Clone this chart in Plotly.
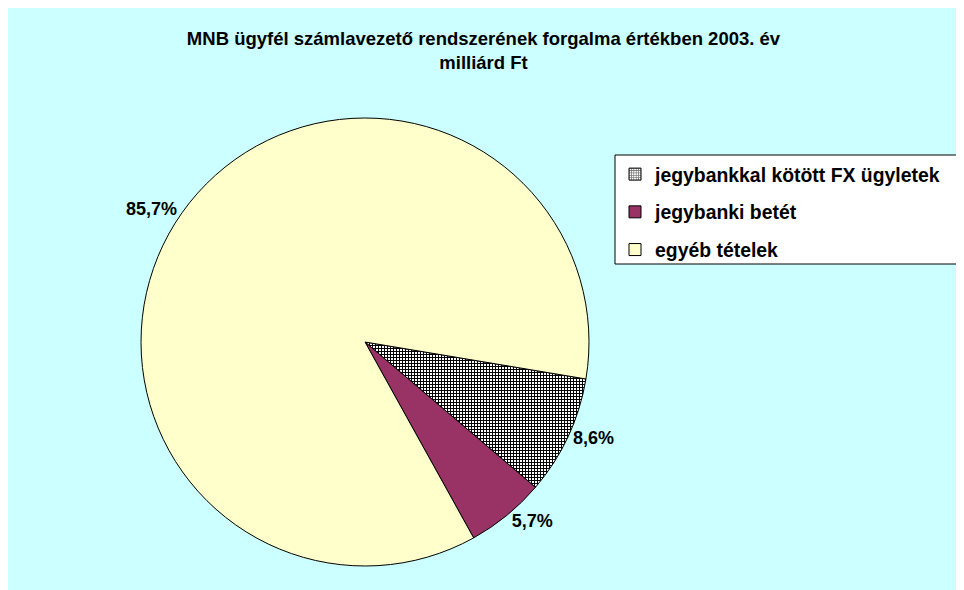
import plotly.graph_objects as go

labels = ["jegybankkal kötött FX ügyletek", "jegybanki betét", "egyéb tételek"]
values = [8.6, 5.7, 85.7]
colors = ["#FFFFFF", "#993366", "#FFFFCC"]
title_lines = ["MNB ügyfél számlavezető rendszerének forgalma értékben 2003. év", "milliárd Ft"]

# page body has an 8px margin, so the figure is sized to fill the rest of the window
W, H = 956, 582
cx, cy, r = 357, 334, 224
FONT = "Arial, Liberation Sans, sans-serif"

fig = go.Figure()
fig.add_trace(go.Pie(
    labels=labels, values=values, sort=False, direction="clockwise", rotation=99.5,
    marker=dict(colors=colors, line=dict(color="black", width=1),
                pattern=dict(shape=["+", "", ""], fgcolor="black", bgcolor="white", size=3, solidity=0.55)),
    texttemplate="%{percent:.1%}", textposition="outside",
    textfont=dict(family=FONT, size=18, color="black", weight="bold"),
    showlegend=False, hoverinfo="label+percent",
    domain=dict(x=[(cx - r) / W, (cx + r) / W], y=[(H - cy - r) / H, (H - cy + r) / H]),
))

# legend entries (one per category) via empty bars on a hidden axis
for i, lab in enumerate(labels):
    fig.add_trace(go.Bar(
        x=[0], y=[0], name=lab, legendgroup=str(i), showlegend=True,
        marker=dict(color=colors[i], line=dict(color="black", width=1),
                    pattern=dict(shape="+" if i == 0 else "", fgcolor="black", bgcolor="white", size=3, solidity=0.55)),
        hoverinfo="skip",
    ))

fig.update_layout(
    width=W, height=H, margin=dict(l=0, r=0, t=0, b=0),
    paper_bgcolor="#CCFFFF", plot_bgcolor="rgba(0,0,0,0)",
    separators=", ",
    xaxis=dict(visible=False, range=[5, 6], fixedrange=True),
    yaxis=dict(visible=False, range=[5, 6], fixedrange=True),
    title=dict(text="<b>" + title_lines[0] + "<br>" + title_lines[1] + "</b>",
               x=475.5 / W, xanchor="center", y=1 - 37 / H, yanchor="top",
               font=dict(family=FONT, size=18.5, color="black")),
    legend=dict(x=607 / W, xanchor="left", y=1 - 147 / H, yanchor="top",
                bgcolor="rgba(0,0,0,0)", borderwidth=0,
                font=dict(family=FONT, size=19.4, color="black", weight="bold"),
                tracegroupgap=9.5, traceorder="grouped"),
    shapes=[dict(type="rect", xref="paper", yref="paper", x0=607 / W, x1=1.02,
                 y0=1 - 256 / H, y1=1 - 147 / H,
                 fillcolor="white", line=dict(width=1, color="black"), layer="below")],
    showlegend=True,
)

fig.write_html("out.html")
